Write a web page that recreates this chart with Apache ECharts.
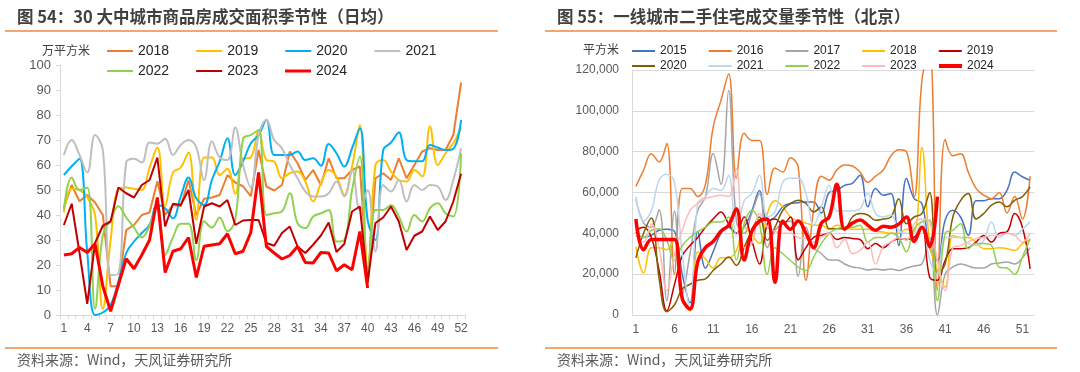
<!DOCTYPE html>
<html><head><meta charset="utf-8">
<script src="https://cdn.jsdelivr.net/npm/echarts@6/dist/echarts.min.js"></script>
<style>html,body{margin:0;padding:0;background:#fff}#c{width:1080px;height:372px}</style>
</head><body><div id="c"></div>
<script>
// ---------- categories ----------
const weeks = ['1','2','3','4','5','6','7','8','9','10','11','12','13','14','15','16','17','18','19','20','21','22','23','24','25','26','27','28','29','30','31','32','33','34','35','36','37','38','39','40','41','42','43','44','45','46','47','48','49','50','51','52'];

// ---------- left chart: 30 cities, daily avg (万平方米) ----------
const L2018 = [43,52,45.5,48,45,40,11.5,11.5,34,36,40,41,53.5,40,44,43.5,54,40,46.5,47,48,56,53,51.5,47.5,66,51.4,49.8,52,65.4,60.7,54,58,52,62.7,54.7,54.7,58,59.4,12.8,54.7,56.7,54,62.7,54.7,60,65.4,66.7,66,66,72,93];
const L2019 = [41,50.5,50,47,40,2.5,30,50.5,51,50.5,50,59,67,43.5,57,59,65,38,63,63,56,58.5,48.5,62.5,63,74,62,61.4,54.7,56.7,57.4,53.4,45.4,52.7,58,55.4,48,59.4,76,14,60,62,57.4,54,53.4,58,55.4,75.4,60,64.7,68.7,75];
const L2020 = [56,59.5,62.5,25,0,1,4,13.5,24.8,29.4,32.8,36,44,42.7,38.7,47.4,55,46.7,44,54,61.4,70.7,56,61.4,68.7,72,78,64,64,64,65.4,62,62.7,59.7,68.4,64.7,59.4,66.7,74.7,38,30,66,69,73,62,61.5,61.5,68,67,66,66.5,78];
const L2021 = [64,70,64,57,72,66,16,16.5,61,62.5,61,69,68.5,70.5,64,68,70,67,54,69.5,63,62,75,60,51,72,78,70,66.7,60,54.7,49.4,47.4,47.4,48.7,53.4,47.4,58,42,50,25.4,52,49.4,54,45.4,52,50,52,51.4,46,54,66.7];
const L2022 = [42,55,50,51,2.5,32,38,43.5,39,35,31,35.5,44,24,31,36.5,36.5,22,37.5,35,39,33.5,38,70.5,72,74,40,40.7,41.4,48.7,36.7,34.8,39.4,40.7,42,29.4,30,50,63.4,14,42,42,44,39.4,33.4,40,37.4,42.7,44.7,40.7,39.4,64.7];
const L2023 = [36,44.5,25,4.5,28.8,35.7,37.4,51,48.7,47,52,54,63,35.4,44.5,44,50,28.5,43.4,44.7,43.4,46,36,37.8,38,38,28.8,27.7,32.8,35.4,27.4,24.8,28.1,31.8,37,25.2,28.4,41.4,43.4,13,36.8,39,43.4,37.4,26,31.7,33.4,39.4,34,37.4,45.4,56.5];
const L2024 = [24,24.5,27,25,28.5,11.5,1.5,12,22.5,18.5,24,30,47,17,25.5,26.5,31,15,27.5,28,28.5,32.5,24.5,25.5,33,57,27.4,24.8,22.4,23.8,27.4,21,20.8,25,24.8,17.7,20.1,18.1,33.4,10.8];

// ---------- right chart: Beijing second-hand (平方米) ----------
const R2015 = [40700,38000,39000,41500,42000,41000,20000,6000,41000,23000,31000,40000,43000,40000,43000,51000,61000,46000,48000,53000,54600,55000,55400,55400,50000,60000,61000,63500,64500,68500,53000,62000,58700,59500,34000,67000,57000,54600,33000,26700,46400,51300,48000,39000,56000,56000,57000,57000,61000,70000,67700,66000];
const R2016 = [63000,71000,79000,75000,84000,20000,62000,62000,58000,64000,92000,105000,118000,67000,89000,85500,85500,59000,72000,70000,77000,72500,17000,52000,68000,66000,71000,73500,73000,70000,65000,68000,71000,78000,81000,80000,58000,115000,130000,12000,86000,78000,79000,70000,62000,58700,57000,60000,50000,58000,47000,68000];
const R2017 = [57000,45000,43000,51500,7000,51000,10000,30000,51000,58000,79000,64000,110000,46000,40000,50000,59500,33000,41500,44700,46000,19000,43000,33000,30000,27000,27000,25000,23500,23000,22000,22500,22000,22500,21800,23000,24000,25000,38000,0,20000,23500,25000,24000,23000,23000,25000,25500,26000,25000,28000,33000];
const R2018 = [33500,20600,33000,33000,32000,37500,8000,2000,31000,27500,23000,28000,28000,31600,43000,39000,35000,49700,56000,53000,48000,46000,45000,44000,44000,42000,44000,43000,42000,42000,42000,41000,40600,40000,40000,42000,41000,82000,35000,22000,13600,39000,38000,38000,35700,32500,32500,33000,32500,31600,35000,37000];
const R2019 = [41500,43000,38000,22000,2000,15000,29000,34000,38000,43000,47000,50500,44700,40000,48000,36500,25000,44700,47000,44700,48000,27000,33000,38000,39000,40000,37000,38000,37500,37000,32500,35000,33000,35700,37400,37000,38000,43000,18500,17000,26700,32500,32500,33000,35700,39000,35700,40000,40700,49700,43000,22600];
const R2020 = [28000,40000,47500,18000,1600,5000,12800,15000,17000,17700,21800,25000,28400,24300,33000,41500,48000,36600,43000,51300,54600,56200,54600,50500,53000,42300,42300,42300,48000,49700,49000,46400,47000,48000,57000,44700,48000,49700,60000,20000,25000,48000,56000,59500,47000,49700,53800,55400,53000,56200,58000,62800];
const R2021 = [58000,46000,51000,66000,69000,65000,30000,3000,54600,58000,62000,61000,68500,39000,56000,59500,68500,48000,50500,65000,67000,67000,59500,44000,53000,63600,51000,51000,51000,52000,59500,49700,48000,49000,41500,40000,40000,46000,27000,20000,38000,38000,38000,35000,34000,36600,45600,38000,40000,39000,42000,45600];
const R2022 = [40700,38000,41500,42300,36600,26700,34000,38000,40700,43000,45600,45600,48000,27000,44700,51300,44700,20000,33000,30000,26700,23400,21800,28400,35000,40000,42300,43000,43000,44000,35700,38000,38000,40000,38000,31000,42300,45600,46400,7000,40000,41500,44700,32500,35000,35000,34000,23400,23000,20000,28400,37400];
const R2023 = [39000,35700,44700,33000,12000,30000,41500,51300,54600,57000,58000,58700,58000,71800,33000,35000,49700,43000,41000,40000,40000,38000,37400,35700,38000,40000,33000,37000,30000,31600,35700,25000,33600,35700,38000,36600,44700,47000,45600,26700,12000,33000,34000,35700,37400,38000,39000,39000,40000,39000,35700,40000];
const R2024 = [47000,32000,37000,37000,37000,37000,8000,3000,26000,33000,36000,41000,44000,52000,27000,41000,46000,47000,16000,46000,42000,46000,40000,33000,45000,48000,64000,42000,45000,46500,44000,41500,43500,43000,44500,48000,36000,43000,33500,58000];

const leftTicks = [0,10,20,30,40,50,60,70,80,90,100];
const rightTicks = [0,20000,40000,60000,80000,100000,120000];

const NUM = '"Liberation Sans", Arial, sans-serif';
const CJK = '"Noto Sans CJK SC", sans-serif';

function L(name, data, color, width, smooth, z) {
  return {name: 'L' + name, type: 'line', xAxisIndex: 0, yAxisIndex: 0, data: data,
    symbol: 'none', smooth: smooth, z: z || 2,
    lineStyle: {color: color, width: width}, itemStyle: {color: color}};
}
function R(name, data, color, width, z) {
  return {name: 'R' + name, type: 'line', xAxisIndex: 1, yAxisIndex: 1, data: data,
    symbol: 'none', smooth: 0.4, z: z || 2,
    lineStyle: {color: color, width: width}, itemStyle: {color: color}};
}

const chart = echarts.init(document.getElementById('c'));
function leg(left, top, size, iw, ih, gap, names) {
  return {orient: 'horizontal', left: left, top: top, padding: 0, icon: 'rect',
    itemWidth: iw, itemHeight: ih, itemGap: gap, selectedMode: false,
    formatter: n => n.slice(1),
    textStyle: {color: '#262626', fontFamily: NUM, fontSize: size},
    data: names};
}

chart.setOption({
  animation: false,
  backgroundColor: '#fff',
  grid: [
    {left: 60, right: 615, top: 65, bottom: 57},
    {left: 632, right: 46, top: 70, bottom: 57}
  ],
  xAxis: [
    {type: 'category', gridIndex: 0, data: weeks, boundaryGap: true,
      axisLine: {lineStyle: {color: '#D9D9D9'}},
      axisTick: {show: true, interval: 0, length: 4, lineStyle: {color: '#D9D9D9'}},
      axisLabel: {interval: 2, color: '#595959', fontSize: 12, fontFamily: NUM, margin: 8}},
    {type: 'category', gridIndex: 1, data: weeks, boundaryGap: true,
      axisLine: {lineStyle: {color: '#D9D9D9'}},
      axisTick: {show: false},
      axisLabel: {interval: 4, color: '#595959', fontSize: 12, fontFamily: NUM, margin: 9}}
  ],
  yAxis: [
    {type: 'value', gridIndex: 0, min: leftTicks[0], max: leftTicks[leftTicks.length-1], interval: 10,
      axisLine: {show: true, lineStyle: {color: '#D9D9D9'}},
      axisTick: {show: true, length: 4, lineStyle: {color: '#D9D9D9'}},
      splitLine: {show: false},
      axisLabel: {color: '#595959', fontSize: 13, fontFamily: NUM, margin: 9}},
    {type: 'value', gridIndex: 1, min: rightTicks[0], max: rightTicks[rightTicks.length-1], interval: 20000,
      axisLine: {show: true, lineStyle: {color: '#D9D9D9'}},
      axisTick: {show: false},
      splitLine: {show: true, lineStyle: {color: '#D9D9D9', width: 1}},
      axisLabel: {color: '#595959', fontSize: 12, fontFamily: NUM, margin: 13,
        formatter: v => v.toLocaleString('en-US')}}
  ],
  legend: [
    leg(107, 44, 14, 26, 2, 27, ['L2018','L2019','L2020','L2021']),
    leg(107, 64, 14, 26, 2, 27, ['L2022','L2023']),
    leg(285, 64, 14, 26, 3, 27, ['L2024']),
    leg(632, 45, 12, 23, 2, 22, ['R2015','R2016','R2017','R2018','R2019']),
    leg(632, 60, 12, 23, 2, 22, ['R2020','R2021','R2022','R2023']),
    leg(939, 60, 12, 23, 4, 22, ['R2024'])
  ],
  series: [
    L('2018', L2018, '#ED7D31', 2, false),
    L('2019', L2019, '#FFC000', 2, 0.4),
    L('2020', L2020, '#00B0F0', 2, 0.4),
    L('2021', L2021, '#BFBFBF', 2, 0.4),
    L('2022', L2022, '#92D050', 2, 0.4),
    L('2023', L2023, '#C00000', 2, false, 3),
    L('2024', L2024, '#FF0000', 3, false, 4),
    R('2015', R2015, '#4472C4', 1.5),
    R('2016', R2016, '#ED7D31', 1.5),
    R('2017', R2017, '#A5A5A5', 1.5),
    R('2018', R2018, '#FFC000', 1.5),
    R('2019', R2019, '#C00000', 1.5),
    R('2020', R2020, '#7F6000', 1.5),
    R('2021', R2021, '#BDD7EE', 1.5),
    R('2022', R2022, '#92D050', 1.5),
    R('2023', R2023, '#FFB9B9', 1.5),
    R('2024', R2024, '#FF0000', 3.5, 4)
  ],
  graphic: [
    {type: 'text', x: 17, y: 17, style: {text: '图 54：30 大中城市商品房成交面积季节性（日均）', font: 'bold 16.5px ' + CJK, fill: '#404040', textVerticalAlign: 'middle'}},
    {type: 'text', x: 557, y: 17, style: {text: '图 55：一线城市二手住宅成交量季节性（北京）', font: 'bold 16.5px ' + CJK, fill: '#404040', textVerticalAlign: 'middle'}},
    {type: 'line', shape: {x1: 5, y1: 31, x2: 498, y2: 31}, style: {stroke: '#F08A3C', lineWidth: 1.5}},
    {type: 'line', shape: {x1: 545, y1: 31, x2: 1057, y2: 31}, style: {stroke: '#F08A3C', lineWidth: 1.5}},
    {type: 'line', shape: {x1: 5, y1: 348, x2: 498, y2: 348}, style: {stroke: '#F08A3C', lineWidth: 1.5}},
    {type: 'line', shape: {x1: 545, y1: 348, x2: 1057, y2: 348}, style: {stroke: '#F08A3C', lineWidth: 1.5}},
    {type: 'text', x: 17, y: 360, style: {text: '资料来源：Wind，天风证券研究所', font: '14px ' + CJK, fill: '#595959', textVerticalAlign: 'middle'}},
    {type: 'text', x: 557, y: 360, style: {text: '资料来源：Wind，天风证券研究所', font: '14px ' + CJK, fill: '#595959', textVerticalAlign: 'middle'}},
    {type: 'text', x: 42, y: 50, style: {text: '万平方米', font: '12px ' + CJK, fill: '#404040', textVerticalAlign: 'middle'}},
    {type: 'text', x: 583, y: 49, style: {text: '平方米', font: '12px ' + CJK, fill: '#404040', textVerticalAlign: 'middle'}}
  ]
});
</script></body></html>
